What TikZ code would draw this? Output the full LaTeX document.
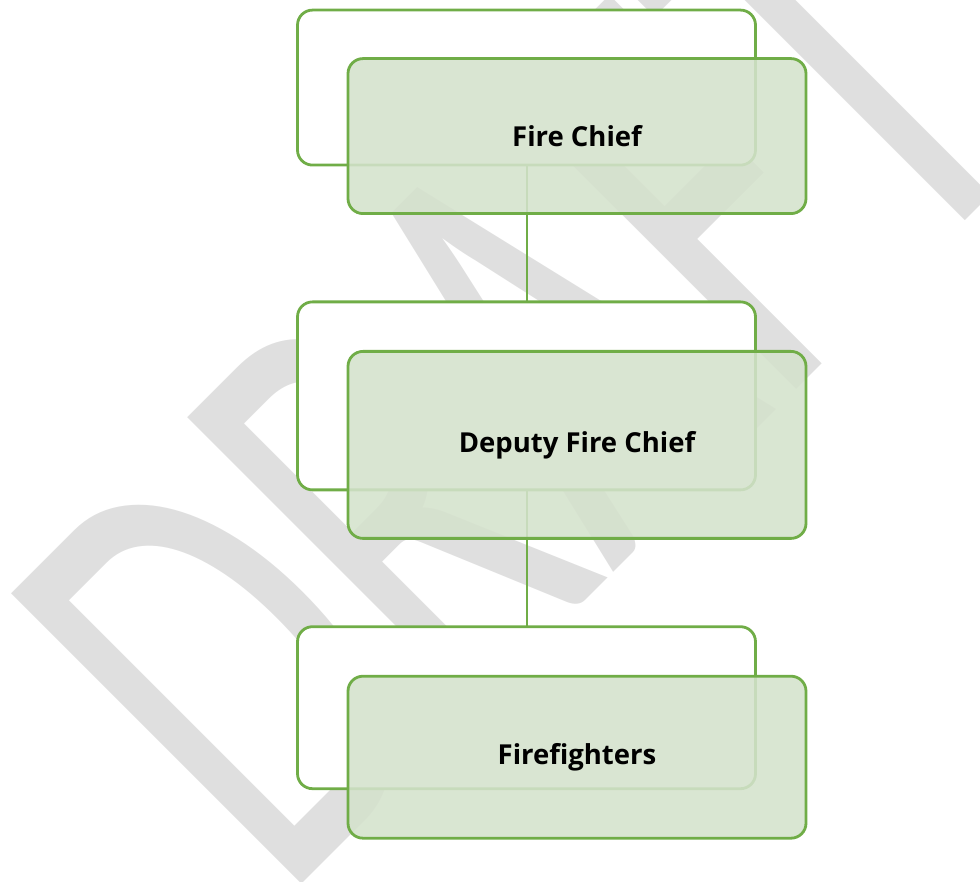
\documentclass[tikz,border=0pt]{standalone}
\usepackage{fontspec}
\setsansfont{Open Sans}
\newfontfamily\draftfamily{Carlito}
\usetikzlibrary{matrix,backgrounds}
\definecolor{chartgreen}{RGB}{112,173,71}
\definecolor{chartfill}{RGB}{212,226,204}
\definecolor{draftgray}{RGB}{223,223,223}
\tikzset{
  front box/.style={draw=chartgreen, line width=2.8pt, fill=chartfill, fill opacity=0.88, text opacity=1,
    rounded corners=15pt, minimum width=458pt, outer sep=0pt, font=\sffamily\bfseries\fontsize{27.5}{32}\selectfont},
  back box/.style={draw=chartgreen, line width=2.8pt, fill=white, rounded corners=15pt,
    minimum width=458pt, outer sep=0pt},
  link/.style={draw=chartgreen, line width=2pt},
  watermark/.style={text=draftgray, rotate=45, anchor=base west, inner sep=0pt,
    font=\draftfamily\fontsize{640}{640}\selectfont}
}

\begin{document}
\begin{tikzpicture}[x=1pt, y=1pt]
			\useasboundingbox (0,0) rectangle (980,882);
			\matrix (c) [matrix of nodes, row sep=135pt, inner sep=0pt, anchor=north, nodes={front box}] at (577,825)
			{
				|[minimum height=155pt]| Fire Chief \\
				|[minimum height=187pt]| Deputy Fire Chief \\
				|[minimum height=162pt]| Firefighters \\
			};
			\begin{scope}[on background layer]
				\begin{scope}
					\clip (0,0) rectangle (980,882);
					\node (draft) [watermark] at (282,-22) {\scalebox{0.63}[1]{DRAFT}};
				\end{scope}
				\node (b1) [back box, minimum height=155pt] at ([shift={(-50.5,48.5)}]c-1-1.center) {};
				\node (b2) [back box, minimum height=188pt] at ([shift={(-50.5,49)}]c-2-1.center) {};
				\node (b3) [back box, minimum height=162pt] at ([shift={(-50.5,49.5)}]c-3-1.center) {};
				\path[link]
				(b1) edge (b2)
				(b2) edge (b3);
			\end{scope}
		\end{tikzpicture}
\end{document}
